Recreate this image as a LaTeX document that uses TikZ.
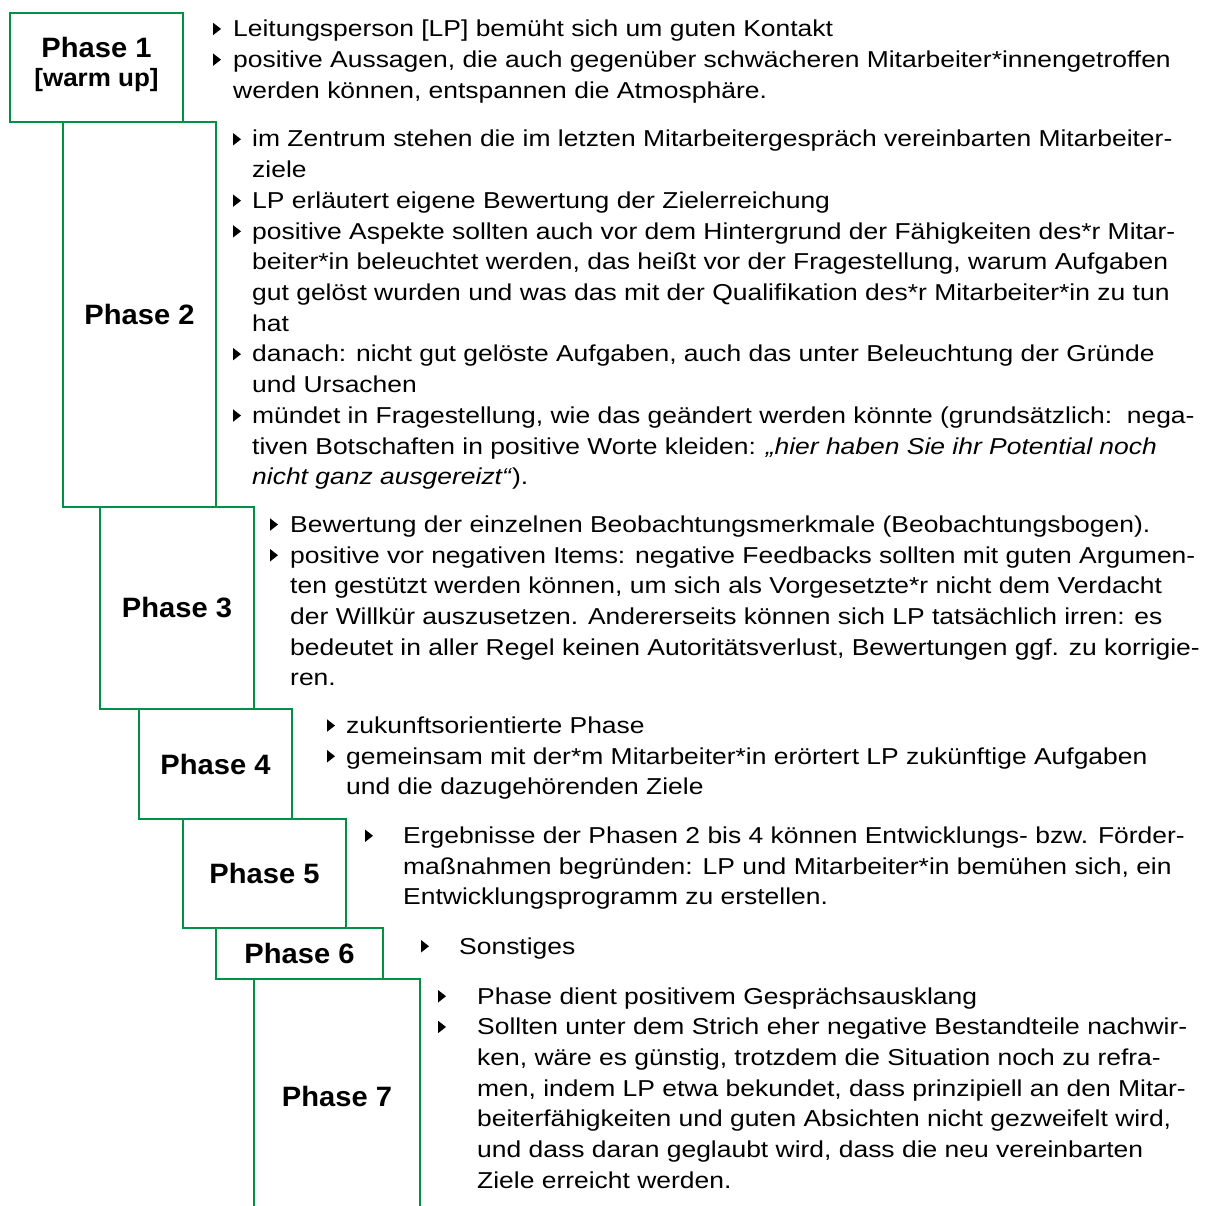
\documentclass[tikz,border=0pt]{standalone}
\usepackage{fontspec}
\setmainfont{Liberation Sans}
\newfontfamily\bodyfont[FakeStretch=1.15]{Liberation Sans}
\newfontfamily\headfont[FakeStretch=1.04]{Liberation Sans}
\definecolor{phasegreen}{RGB}{0,145,70}
\tikzset{
  phasebox/.style={draw=phasegreen, line width=2pt, inner sep=0pt,
    font=\headfont\bfseries\fontsize{28}{30}\selectfont},
  phaselabel/.style={inner sep=0pt, align=center,
    font=\headfont\bfseries\fontsize{28}{30}\selectfont},
  bodytext/.style={font=\bodyfont\fontsize{23}{30.7}\selectfont,
    inner sep=0pt, anchor=base west},
  tri/.pic={\fill[black] (0,-14) -- (0,-1.5) -- (8,-7.75) -- cycle;}
}
\newcommand\txtlines[4]{%
  \foreach \lntext [count=\i from 0] in {#4} {%
    \node[bodytext] (#1-\i) at ({#2},{#3+30.7*\i}) {\lntext};}}
\begin{document}
\begin{tikzpicture}[x=1pt,y=-1pt]
\useasboundingbox (0,0) rectangle (1212,1206);
% phase boxes
\node[phasebox, minimum width=173, minimum height=109] (p1) at (96.5,67.5) {};
\node[phaselabel] (p1t) at (96.5,64) {Phase 1\\[-1pt]{\fontsize{25}{28}\selectfont [warm up]}};
\node[phasebox, minimum width=153, minimum height=385] (p2) at (139.5,314.5) {Phase 2};
\node[phasebox, minimum width=154, minimum height=202] (p3) at (177,608) {Phase 3};
\node[phasebox, minimum width=153, minimum height=110] (p4) at (215.5,764) {Phase 4};
\node[phasebox, minimum width=163, minimum height=109] (p5) at (264.5,873.5) {Phase 5};
\node[phasebox, minimum width=167, minimum height=51] (p6) at (299.5,953.5) {Phase 6};
\node[phasebox, minimum width=166, minimum height=234] (p7) at (337,1096) {Phase 7};
% block 1
\txtlines{b1}{233}{36.7}{
  {Leitungsperson [LP] bemüht sich um guten Kontakt},
  {positive Aussagen, die auch gegenüber schwächeren Mitarbeiter*innengetroffen},
  {werden können, entspannen die Atmosphäre.}}
\pic at ([xshift=-20pt]b1-0.base west) {tri};
\pic at ([xshift=-20pt]b1-1.base west) {tri};
% block 2
\txtlines{b2}{252}{147}{
  {im Zentrum stehen die im letzten Mitarbeitergespräch vereinbarten Mitarbeiter-},
  {ziele},
  {LP erläutert eigene Bewertung der Zielerreichung},
  {positive Aspekte sollten auch vor dem Hintergrund der Fähigkeiten des*r Mitar-},
  {beiter*in beleuchtet werden, das heißt vor der Fragestellung, warum Aufgaben},
  {gut gelöst wurden und was das mit der Qualifikation des*r Mitarbeiter*in zu tun},
  {hat},
  {danach: nicht gut gelöste Aufgaben, auch das unter Beleuchtung der Gründe},
  {und Ursachen},
  {mündet in Fragestellung, wie das geändert werden könnte (grundsätzlich:\ \ nega-},
  {tiven Botschaften in positive Worte kleiden: \textit{„hier haben Sie ihr Potential noch}},
  {\textit{nicht ganz ausgereizt“}).}}
\foreach \k in {0,2,3,7,9} {\pic at ([xshift=-19pt]b2-\k.base west) {tri};}
% block 3
\txtlines{b3}{290}{532.3}{
  {Bewertung der einzelnen Beobachtungsmerkmale (Beobachtungsbogen).},
  {positive vor negativen Items: negative Feedbacks sollten mit guten Argumen-},
  {ten gestützt werden können, um sich als Vorgesetzte*r nicht dem Verdacht},
  {der Willkür auszusetzen. Andererseits können sich LP tatsächlich irren: es},
  {bedeutet in aller Regel keinen Autoritätsverlust, Bewertungen ggf. zu korrigie-},
  {ren.}}
\foreach \k in {0,1} {\pic at ([xshift=-20pt]b3-\k.base west) {tri};}
% block 4
\txtlines{b4}{346}{733.3}{
  {zukunftsorientierte Phase},
  {gemeinsam mit der*m Mitarbeiter*in erörtert LP zukünftige Aufgaben},
  {und die dazugehörenden Ziele}}
\foreach \k in {0,1} {\pic at ([xshift=-19pt]b4-\k.base west) {tri};}
% block 5
\txtlines{b5}{403}{843.5}{
  {Ergebnisse der Phasen 2 bis 4 können Entwicklungs- bzw. Förder-},
  {maßnahmen begründen: LP und Mitarbeiter*in bemühen sich, ein},
  {Entwicklungsprogramm zu erstellen.}}
\pic at ([xshift=-38pt]b5-0.base west) {tri};
% block 6
\txtlines{b6}{459}{954}{{Sonstiges}}
\pic at ([xshift=-38pt]b6-0.base west) {tri};
% block 7
\txtlines{b7}{477}{1004}{
  {Phase dient positivem Gesprächsausklang},
  {Sollten unter dem Strich eher negative Bestandteile nachwir-},
  {ken, wäre es günstig, trotzdem die Situation noch zu refra-},
  {men, indem LP etwa bekundet, dass prinzipiell an den Mitar-},
  {beiterfähigkeiten und guten Absichten nicht gezweifelt wird,},
  {und dass daran geglaubt wird, dass die neu vereinbarten},
  {Ziele erreicht werden.}}
\foreach \k in {0,1} {\pic at ([xshift=-39pt]b7-\k.base west) {tri};}
\end{tikzpicture}
\end{document}
